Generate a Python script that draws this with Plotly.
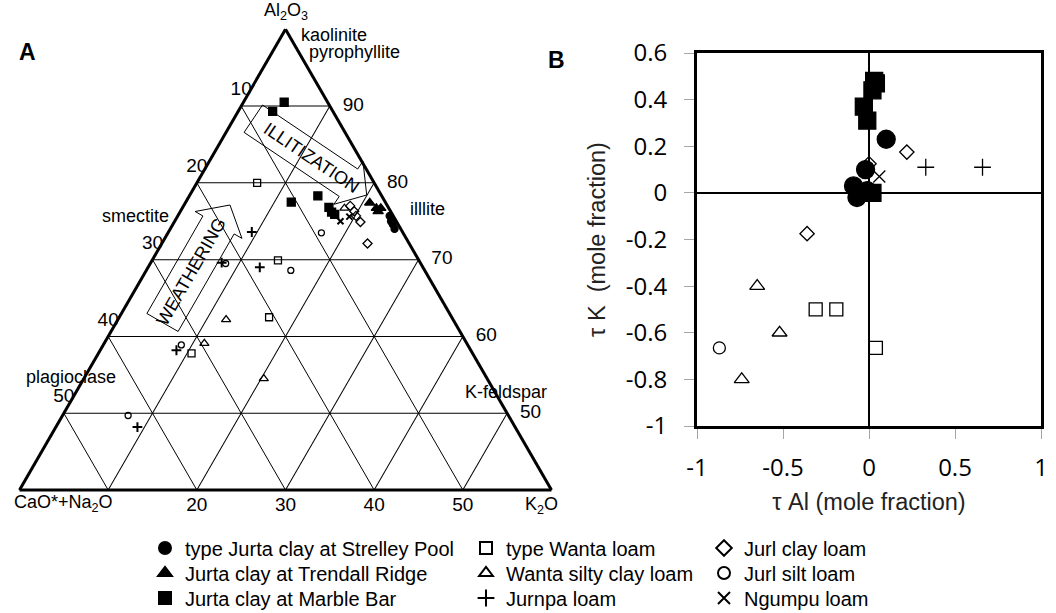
import math
import plotly.graph_objects as go

W, H = 1056, 613

# ---------------- Panel A: A-CN-K ternary (mole %) ----------------
# components: Al2O3 (a), CaO*+Na2O (b), K2O (c)
strelley_al = [75.7, 75.0, 74.6, 74.0]
strelley_cn = [0.4, 0.6, 0.6, 0.7]
strelley_k = [23.9, 24.4, 24.8, 25.3]

trendall_al = [77.4, 76.7, 76.7, 76.3]
trendall_cn = [1.8, 1.4, 0.9, 1.4]
trendall_k = [20.8, 21.9, 22.4, 22.3]

marble_al = [90.5, 89.3, 77.5, 78.3, 76.8, 76.2, 75.9]
marble_cn = [4.9, 6.8, 10.6, 7.2, 6.7, 6.7, 6.5]
marble_k = [4.6, 3.9, 11.9, 14.5, 16.5, 17.1, 17.6]

wanta_al = [80.0, 69.9, 62.5, 57.8]
wanta_cn = [13.2, 15.9, 20.6, 31.7]
wanta_k = [6.8, 14.2, 16.9, 10.5]

wanta_silty_al = [76.7, 62.2, 59.1, 54.5]
wanta_silty_cn = [5.0, 25.6, 29.6, 25.2]
wanta_silty_k = [18.3, 12.2, 11.3, 20.3]

jurnpa_al = [73.6, 69.0, 69.6, 58.2, 48.2]
jurnpa_cn = [17.0, 18.4, 22.4, 33.2, 42.6]
jurnpa_k = [9.4, 12.6, 8.0, 8.6, 9.2]

jurl_clay_al = [77.0, 76.3, 75.7, 74.9, 72.1]
jurl_clay_cn = [4.2, 4.1, 4.2, 4.1, 4.7]
jurl_clay_k = [18.8, 19.6, 20.1, 21.0, 23.2]

jurl_silt_al = [73.5, 68.6, 69.5, 58.9, 49.7]
jurl_silt_cn = [9.2, 15.1, 22.0, 32.3, 42.9]
jurl_silt_k = [17.3, 16.3, 8.5, 8.8, 7.4]

ngumpu_al = [75.0, 75.6]
ngumpu_cn = [6.3, 5.0]
ngumpu_k = [18.7, 19.4]

# ternary tick labels (as printed on the figure)
left_ticks = [10, 20, 30, 40, 50]      # CaO*+Na2O along left edge
right_ticks = [90, 80, 70, 60, 50]     # Al2O3 along right edge
bottom_ticks = [20, 30, 40, 50]        # K2O along bottom edge
AL_MIN = 40

# ---------------- Panel B: tau K vs tau Al ----------------
strelley_tau_al = [0.10, -0.02, -0.09, -0.07, -0.01]
strelley_tau_k = [0.23, 0.10, 0.03, -0.02, 0.01]

marble_tau_al = [0.03, 0.04, 0.02, -0.03, -0.01, 0.02]
marble_tau_k = [0.48, 0.47, 0.44, 0.37, 0.31, 0.00]

wanta_tau_al = [-0.31, -0.19, 0.04]
wanta_tau_k = [-0.50, -0.50, -0.665]

wanta_silty_tau_al = [-0.65, -0.52, -0.74]
wanta_silty_tau_k = [-0.40, -0.60, -0.80]

jurnpa_tau_al = [0.33, 0.66]
jurnpa_tau_k = [0.11, 0.11]

jurl_clay_tau_al = [0.22, -0.36, 0.0]
jurl_clay_tau_k = [0.175, -0.175, 0.125]

jurl_silt_tau_al = [-0.87]
jurl_silt_tau_k = [-0.665]

ngumpu_tau_al = [0.06]
ngumpu_tau_k = [0.07]

x_ticks = [-1, -0.5, 0, 0.5, 1]
y_ticks = [-1, -0.8, -0.6, -0.4, -0.2, 0, 0.2, 0.4, 0.6]

FONT = "Liberation Sans"
TFONT = dict(family=FONT, size=19, color="black")

fig = go.Figure()

series = [
    # name, legend slot (col,row), (a,b,c), (tx,ty), symbol, tern size, B size
    ("type Jurta clay at Strelley Pool", (0, 0), (strelley_al, strelley_cn, strelley_k),
     (strelley_tau_al, strelley_tau_k), "circle", 7, 18),
    ("Jurta clay at Trendall Ridge", (0, 1), (trendall_al, trendall_cn, trendall_k),
     None, "triangle-up", 9, 14),
    ("Jurta clay at Marble Bar", (0, 2), (marble_al, marble_cn, marble_k),
     (marble_tau_al, marble_tau_k), "square", 8, 17),
    ("type Wanta loam", (1, 0), (wanta_al, wanta_cn, wanta_k),
     (wanta_tau_al, wanta_tau_k), "square-open", 7, 13),
    ("Wanta silty clay loam", (1, 1), (wanta_silty_al, wanta_silty_cn, wanta_silty_k),
     (wanta_silty_tau_al, wanta_silty_tau_k), "triangle-up-open", 8, 13),
    ("Jurnpa loam", (1, 2), (jurnpa_al, jurnpa_cn, jurnpa_k),
     (jurnpa_tau_al, jurnpa_tau_k), "cross-thin-open", 7, 12),
    ("Jurl clay loam", (2, 0), (jurl_clay_al, jurl_clay_cn, jurl_clay_k),
     (jurl_clay_tau_al, jurl_clay_tau_k), "diamond-open", 7, 11),
    ("Jurl silt loam", (2, 1), (jurl_silt_al, jurl_silt_cn, jurl_silt_k),
     (jurl_silt_tau_al, jurl_silt_tau_k), "circle-open", 6, 12),
    ("Ngumpu loam", (2, 2), (ngumpu_al, ngumpu_cn, ngumpu_k),
     (ngumpu_tau_al, ngumpu_tau_k), "x-thin-open", 6, 12),
]

# legend layout: symbol x of each column, y of each row (px)
leg_col_x = [165, 486, 724]
leg_row_y = [548, 573, 598]

legend_layouts = {}
for i, (name, (col, row), (a, b, c), tau, sym, ts, bs) in enumerate(series):
    leg_id = "legend" if i == 0 else "legend%d" % (i + 1)
    legend_layouts[leg_id] = dict(
        font=dict(family=FONT, size=20, color="black"), itemsizing="constant",
        bgcolor="rgba(0,0,0,0)", xanchor="left", yanchor="middle", orientation="v",
        x=(leg_col_x[col] - 20) / W, y=1 - leg_row_y[row] / H, borderwidth=0)
    lw = 2.0 if sym in ("cross-thin-open", "x-thin-open") else 1.3
    fig.add_trace(go.Scatterternary(
        a=a, b=b, c=c, mode="markers", name=name, legend=leg_id,
        marker=dict(symbol=sym, size=ts, color="black", line=dict(color="black", width=lw)),
        cliponaxis=False, showlegend=True))
    if tau is not None:
        fig.add_trace(go.Scatter(
            x=tau[0], y=tau[1], mode="markers", name=name, showlegend=False,
            marker=dict(symbol=sym, size=bs, color="black", line=dict(color="black", width=1.3)),
            cliponaxis=False, xaxis="x", yaxis="y"))

# ternary tick labels placed at the grid nodes through the ternary scale
fig.add_trace(go.Scatterternary(
    a=[100 - v for v in left_ticks], b=left_ticks, c=[0] * len(left_ticks),
    mode="markers+text", text=[str(v) for v in left_ticks], textposition="top center",
    textfont=TFONT, marker=dict(size=8, color="rgba(0,0,0,0)"),
    hoverinfo="skip", showlegend=False, cliponaxis=False))
fig.add_trace(go.Scatterternary(
    a=right_ticks, b=[0] * len(right_ticks), c=[100 - v for v in right_ticks],
    mode="markers+text", text=[str(v) for v in right_ticks], textposition="middle right",
    textfont=TFONT, marker=dict(size=19, color="rgba(0,0,0,0)"),
    hoverinfo="skip", showlegend=False, cliponaxis=False))
fig.add_trace(go.Scatterternary(
    a=[AL_MIN] * len(bottom_ticks), b=[100 - AL_MIN - v for v in bottom_ticks], c=bottom_ticks,
    mode="markers+text", text=[str(v) for v in bottom_ticks], textposition="bottom center",
    textfont=TFONT, marker=dict(size=9, color="rgba(0,0,0,0)"),
    hoverinfo="skip", showlegend=False, cliponaxis=False))

tern_axis = dict(dtick=10, tick0=0, showticklabels=False, ticks="", linecolor="black",
                 linewidth=3, showgrid=True, gridcolor="black", gridwidth=1,
                 title=dict(text=""))

tx0, tx1 = 19.5, 551.5
BFONT = dict(family="Open Sans", size=24, color="black")
TITLEFONT = dict(family=FONT, size=23.5, color="#222")
fig.update_layout(
    ternary=dict(
        sum=100,
        domain=dict(x=[tx0 / W, tx1 / W], y=[1 - 490 / H, 1 - 29.3 / H]),
        bgcolor="white",
        aaxis=dict(tern_axis, min=AL_MIN),
        baxis=dict(tern_axis, min=0),
        caxis=dict(tern_axis, min=0),
    ),
    xaxis=dict(domain=[697 / W, 1041 / W], range=[-1, 1], anchor="y",
               tickvals=x_ticks, ticktext=[("%g" % v) for v in x_ticks],
               ticks="outside", ticklen=10, tickcolor="#a6a6a6", tickwidth=1,
               showline=True, linecolor="black", linewidth=3, mirror=True,
               zeroline=True, zerolinecolor="black", zerolinewidth=2, showgrid=False,
               tickfont=BFONT, ticklabelstandoff=8, automargin=False,
               title=dict(text="τ Al (mole fraction)", standoff=12, font=TITLEFONT)),
    yaxis=dict(domain=[1 - 426 / H, 1 - 53 / H], range=[-1, 0.6], anchor="x",
               tickvals=y_ticks, ticktext=[("%g" % v) for v in y_ticks],
               ticks="outside", ticklen=10, tickcolor="#a6a6a6", tickwidth=1,
               showline=True, linecolor="black", linewidth=3, mirror=True,
               zeroline=True, zerolinecolor="black", zerolinewidth=2, showgrid=False,
               tickfont=BFONT, ticklabelstandoff=12, automargin=False,
               title=dict(text="τ K  (mole fraction)", standoff=14, font=TITLEFONT)),
    width=W, height=H,
    margin=dict(l=0, r=0, t=0, b=0, autoexpand=False),
    paper_bgcolor="white", plot_bgcolor="white",
    font=dict(family=FONT, color="black"),
    **legend_layouts,
)

# ---------- block arrows (decoration) ----------
def block_arrow(tail, tip, w, hw, hl):
    dx, dy = tip[0] - tail[0], tip[1] - tail[1]
    L = math.hypot(dx, dy)
    ux, uy = dx / L, dy / L
    nx, ny = -uy, ux
    nk = (tip[0] - ux * hl, tip[1] - uy * hl)
    pts = [
        (tail[0] + nx * w / 2, tail[1] + ny * w / 2),
        (nk[0] + nx * w / 2, nk[1] + ny * w / 2),
        (nk[0] + nx * hw / 2, nk[1] + ny * hw / 2),
        tip,
        (nk[0] - nx * hw / 2, nk[1] - ny * hw / 2),
        (nk[0] - nx * w / 2, nk[1] - ny * w / 2),
        (tail[0] - nx * w / 2, tail[1] - ny * w / 2),
    ]
    path = "M " + " L ".join("%.5f,%.5f" % (x / W, 1 - y / H) for x, y in pts) + " Z"
    return dict(type="path", path=path, xref="paper", yref="paper",
                line=dict(color="black", width=1), fillcolor="rgba(0,0,0,0)")

arrows = [
    # text, tail(px), tip(px), body w, head w, head len, text center
    ("ILLITIZATION", (253.3, 118.7), (366.7, 195.0), 33, 52, 22, (311.7, 158.3)),
    ("WEATHERING", (162.5, 322.5), (230.0, 205.0), 36, 54, 23, (191.0, 272.0)),
]
shapes = []
annotations = []
for txt, tail, tip, w, hw, hl, tc in arrows:
    shapes.append(block_arrow(tail, tip, w, hw, hl))
    ang = math.degrees(math.atan2(tip[1] - tail[1], tip[0] - tail[0]))
    annotations.append(dict(text=txt, x=tc[0] / W, y=1 - tc[1] / H, xref="paper", yref="paper",
                            showarrow=False, textangle=ang, xanchor="center", yanchor="middle",
                            font=dict(family=FONT, size=18, color="black")))

labels = [
    # text, x px, y px, xanchor, size
    ("Al<sub>2</sub>O<sub>3</sub>", 286, 12, "center", 18),
    ("CaO*+Na<sub>2</sub>O", 63, 503, "center", 18),
    ("K<sub>2</sub>O", 541, 505, "center", 18),
    ("kaolinite", 299, 35, "left", 18),
    ("pyrophyllite", 307, 52, "left", 18),
    ("smectite", 171, 216, "right", 18),
    ("plagioclase", 71, 377, "center", 18),
    ("illlite", 408, 209, "left", 18),
    ("K-feldspar", 463, 392, "left", 18),
    ("<b>A</b>", 27, 52, "center", 23),
    ("<b>B</b>", 556, 60, "center", 23),
]
for txt, x, y, xa, sz in labels:
    annotations.append(dict(text=txt, x=x / W, y=1 - y / H, xref="paper", yref="paper",
                            showarrow=False, xanchor=xa, yanchor="middle",
                            font=dict(family=FONT, size=sz, color="black")))

fig.update_layout(shapes=shapes, annotations=annotations)

fig.write_html("out.html")
